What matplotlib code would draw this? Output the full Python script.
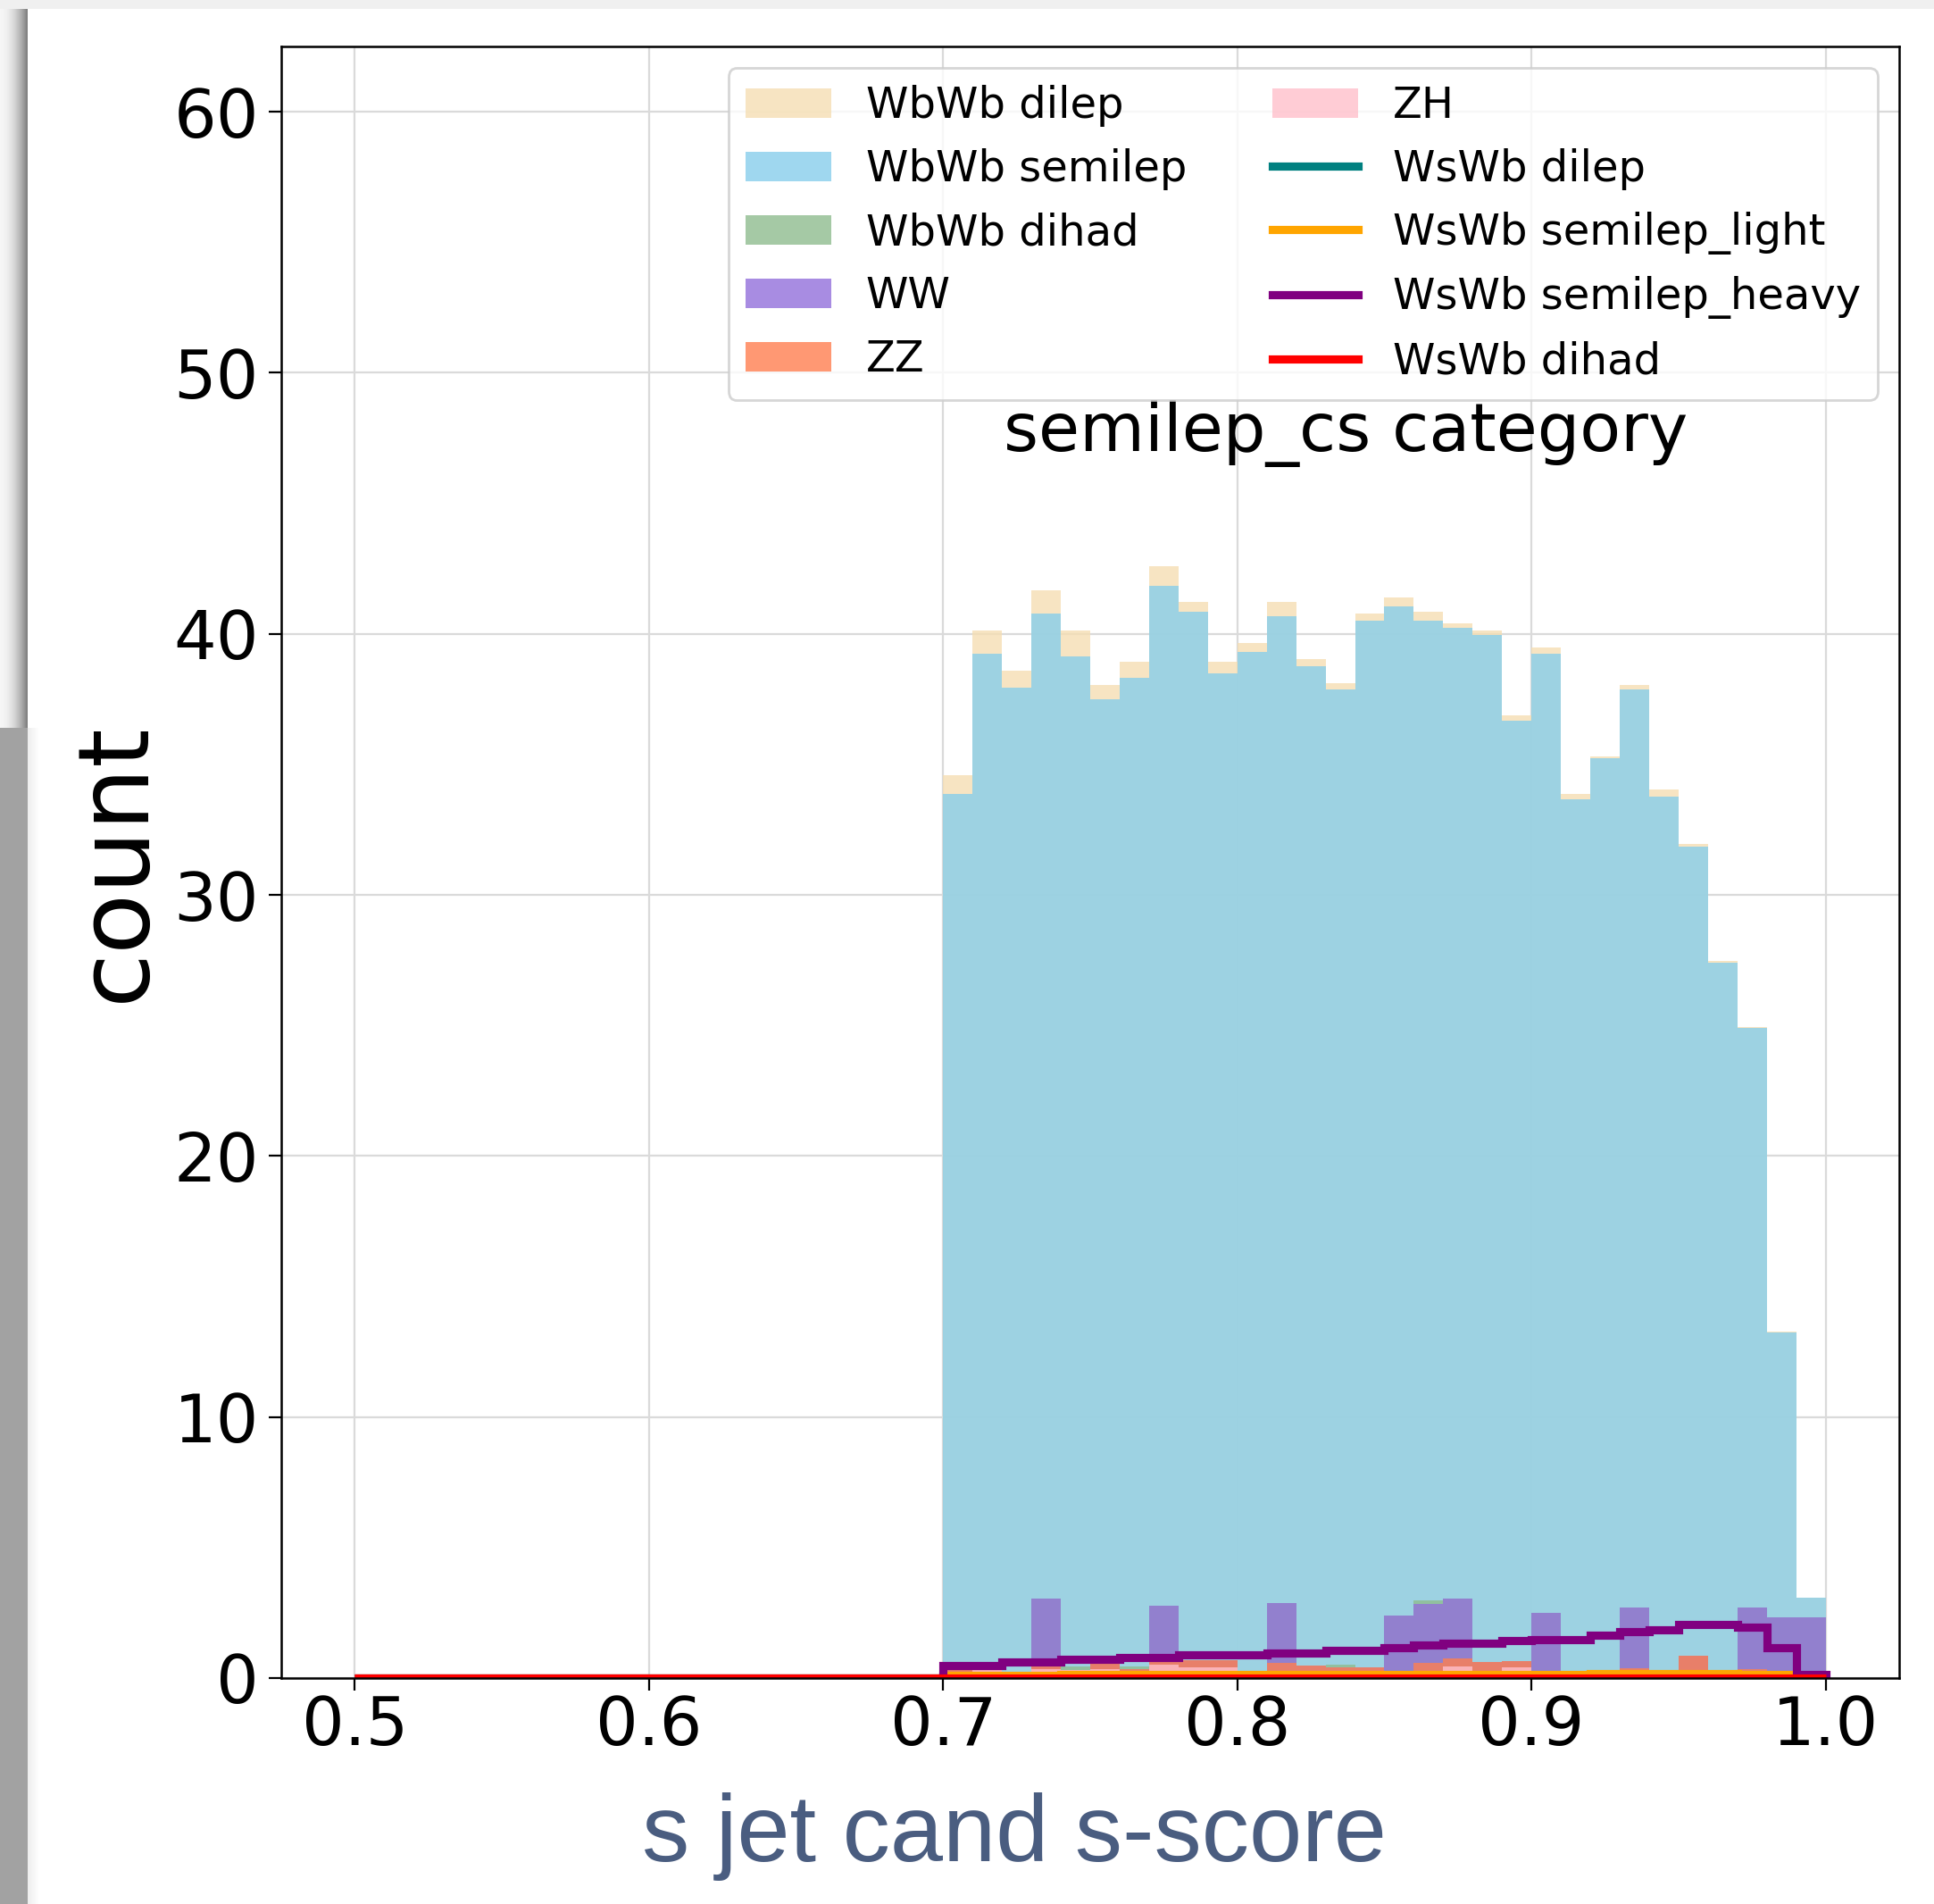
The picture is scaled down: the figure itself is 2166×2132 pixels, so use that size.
import numpy as np
import matplotlib
matplotlib.use("Agg")
import matplotlib.pyplot as plt

# bin edges of the s-score histogram, 50 bins of 0.01
edges = np.round(np.linspace(0.5, 1.0, 51), 2)
empty = [0.0] * 20  # bins 0.50-0.70 are empty

# background processes, stacked bottom -> top: ZH, ZZ, WW, WbWb dihad, WbWb semilep, WbWb dilep
zh = empty + [0.12, 0.30, 0.05, 0.34, 0.30, 0.34, 0.05, 0.50, 0.40, 0.40,
              0.20, 0.15, 0.10, 0.04, 0.05, 0.05, 0.00, 0.45, 0.15, 0.40,
              0.00, 0.05, 0.15, 0.00, 0.15, 0.30, 0.00, 0.00, 0.00, 0.00]
zz = empty + [0.20, 0.00, 0.00, 0.42, 0.00, 0.20, 0.28, 0.22, 0.30, 0.30,
              0.00, 0.42, 0.38, 0.38, 0.35, 0.00, 0.57, 0.30, 0.45, 0.25,
              0.10, 0.12, 0.12, 0.38, 0.12, 0.55, 0.15, 0.35, 0.02, 0.00]
ww = empty + [0.00, 0.00, 0.00, 2.28, 0.00, 0.00, 0.00, 2.06, 0.00, 0.00,
              0.00, 2.29, 0.00, 0.00, 0.00, 2.35, 2.28, 2.29, 0.00, 0.00,
              2.41, 0.00, 0.00, 2.32, 0.00, 0.00, 0.00, 2.35, 2.29, 2.31]
wbwb_dihad = empty + [0.00, 0.00, 0.00, 0.00, 0.15, 0.00, 0.12, 0.00, 0.00, 0.00,
                      0.00, 0.00, 0.00, 0.08, 0.00, 0.00, 0.12, 0.00, 0.00, 0.00,
                      0.00, 0.00, 0.00, 0.00, 0.00, 0.00, 0.00, 0.00, 0.00, 0.00]
wbwb_semilep = empty + [33.53, 38.93, 37.90, 37.73, 38.68, 36.94, 37.87, 39.07, 40.16, 37.80,
                        39.11, 37.82, 38.29, 37.36, 40.10, 38.64, 37.53, 37.18, 39.35, 36.02,
                        36.72, 33.50, 34.95, 35.16, 33.49, 31.00, 27.24, 22.20, 10.93, 0.76]
wbwb_dilep = empty + [0.72, 0.90, 0.63, 0.91, 1.00, 0.56, 0.62, 0.73, 0.37, 0.44,
                      0.35, 0.55, 0.26, 0.26, 0.27, 0.37, 0.36, 0.18, 0.18, 0.20,
                      0.26, 0.19, 0.09, 0.18, 0.27, 0.10, 0.08, 0.05, 0.03, 0.00]

# signal processes drawn as step lines
wswb_dilep = empty + [0.03] * 29 + [0.0]
wswb_semilep_light = empty + [0.10, 0.10, 0.11, 0.11, 0.12, 0.12, 0.12, 0.13, 0.13, 0.13,
                              0.13, 0.14, 0.14, 0.14, 0.14, 0.15, 0.15, 0.15, 0.15, 0.15,
                              0.15, 0.15, 0.16, 0.16, 0.16, 0.16, 0.16, 0.15, 0.12, 0.00]
wswb_semilep_heavy = empty + [0.49, 0.49, 0.62, 0.62, 0.71, 0.71, 0.80, 0.80, 0.88, 0.88,
                              0.88, 0.97, 0.97, 1.05, 1.05, 1.16, 1.25, 1.33, 1.33, 1.42,
                              1.48, 1.48, 1.65, 1.77, 1.86, 2.05, 2.05, 1.94, 1.17, 0.15]
wswb_dihad = [0.0] * 50

bkg_labels = ["ZH", "ZZ", "WW", "WbWb dihad", "WbWb semilep", "WbWb dilep"]
bkg_colors = ["pink", "coral", "mediumpurple", "darkseagreen", "skyblue", "wheat"]
sig_labels = ["WsWb dilep", "WsWb semilep_light", "WsWb semilep_heavy", "WsWb dihad"]
sig_colors = ["teal", "orange", "purple", "red"]

W, H, DPI = 2166, 2132, 200
fig = plt.figure(figsize=(W / DPI, H / DPI), dpi=DPI)

# screenshot frame: grey strip on top, shadow on the left
bg = np.full((H, W, 3), 255, np.uint8)
bg[:10, :] = 240
shade = (246 - (np.arange(31) / 30.0) ** 2 * 120).astype(np.uint8)
bg[10:815, :31] = shade[None, :, None]
bg[815:, :31] = 162
bg[815:, 31:44] = np.linspace(238, 255, 13).astype(np.uint8)[None, :, None]
bax = fig.add_axes([0, 0, 1, 1])
bax.imshow(bg, aspect="auto", interpolation="nearest")
bax.axis("off")

ax = fig.add_axes([315 / W, 1 - 1879 / H, (2127 - 315) / W, (1879 - 52) / H])

# cumulative stack, each layer filled from zero (top layer drawn first)
stack = np.cumsum(np.array([zh, zz, ww, wbwb_dihad, wbwb_semilep, wbwb_dilep]), axis=0)
handles = {}
for i in range(len(bkg_labels) - 1, -1, -1):
    handles[bkg_labels[i]] = ax.stairs(stack[i], edges, fill=True, color=bkg_colors[i],
                                       alpha=0.8, linewidth=0)

for vals, lab, col in zip([wswb_dilep, wswb_semilep_light, wswb_semilep_heavy, wswb_dihad],
                          sig_labels, sig_colors):
    handles[lab] = ax.stairs(vals, edges, color=col, linewidth=3.3)

ax.set_xlim(0.475, 1.025)
ax.set_ylim(0, 62.5)
ax.set_xticks([0.5, 0.6, 0.7, 0.8, 0.9, 1.0])
ax.set_yticks([0, 10, 20, 30, 40, 50, 60])
ax.grid(True, color="#dadada", linewidth=0.8)
ax.set_axisbelow(True)
ax.tick_params(labelsize=27, length=5, width=0.8)
ax.tick_params(axis="x", pad=1.5)
ax.tick_params(axis="y", pad=4)
for s in ax.spines.values():
    s.set_linewidth(0.9)
ax.set_ylabel("count", fontsize=40)

order = ["WbWb dilep", "WbWb semilep", "WbWb dihad", "WW", "ZZ",
         "ZH", "WsWb dilep", "WsWb semilep_light", "WsWb semilep_heavy", "WsWb dihad"]
ax.legend([handles[k] for k in order], order, loc="upper right", ncol=2, fontsize=17.3)

ax.text(0.658, 0.752, "semilep_cs category", transform=ax.transAxes,
        ha="center", va="baseline", fontsize=27)

fig.text(1136 / W, 1 - 2056 / H, "s jet cand s-score", ha="center", va="center",
         fontsize=38.3, family="Liberation Sans", color="#4a5d80")

fig.savefig("out.png", dpi=DPI)
